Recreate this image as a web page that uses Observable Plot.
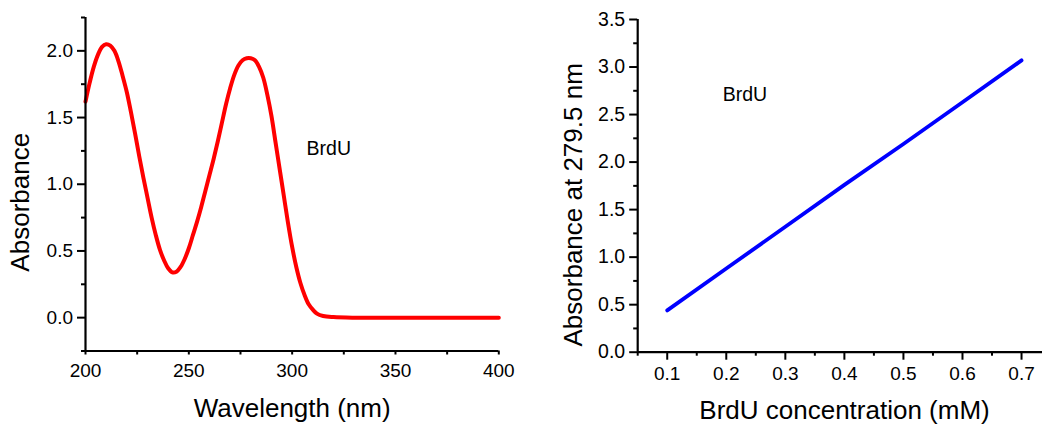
<!DOCTYPE html>
<html><head><meta charset="utf-8">
<script src="https://cdn.jsdelivr.net/npm/d3@7"></script>
<script src="https://cdn.jsdelivr.net/npm/@observablehq/plot@0.6"></script>
<style>
html,body{margin:0;padding:0;background:#fff;}
#wrap{display:flex;width:1042px;height:424px;overflow:hidden;}
svg{display:block;flex:none;}
</style></head><body><div id="wrap"></div>
<script>
// Left panel: UV spectrum of BrdU
const wavelength = [200,202,204,206,208,210,212,214,216,218,220,222,224,226,228,230,232,234,236,238,240,242,244,246,248,250,252,254,256,258,260,262,264,266,268,270,272,274,276,278,280,282,284,286,288,290,292,294,296,298,300,302,304,306,308,310,312,315,320,330,350,400];
const absorbance = [1.62,1.76,1.88,1.97,2.03,2.05,2.04,2.00,1.92,1.81,1.69,1.54,1.38,1.21,1.05,0.90,0.75,0.62,0.51,0.43,0.37,0.34,0.345,0.38,0.44,0.52,0.62,0.72,0.83,0.95,1.07,1.19,1.32,1.46,1.60,1.72,1.82,1.89,1.93,1.945,1.945,1.93,1.88,1.80,1.67,1.51,1.31,1.11,0.91,0.71,0.53,0.38,0.26,0.17,0.10,0.06,0.03,0.012,0.004,0.0,0.0,0.0];
const spectrumXTicks = [200,250,300,350,400];
const spectrumXMinor = [225,275,325,375];
const spectrumYTicks = [0,0.5,1.0,1.5,2.0];
const spectrumYMinor = [-0.25,0.25,0.75,1.25,1.75,2.25];
const spectrumLabel = [{x:307, y:1.265, text:"BrdU"}];

// Right panel: calibration line
const concentration = [0.1,0.2,0.3,0.4,0.5,0.6,0.7];
const absorbance279 = [0.44,0.88,1.32,1.76,2.19,2.63,3.07];
const calibXTicks = [0.1,0.2,0.3,0.4,0.5,0.6,0.7];
const calibXMinor = [0.05,0.15,0.25,0.35,0.45,0.55,0.65];
const calibYTicks = [0,0.5,1.0,1.5,2.0,2.5,3.0,3.5];
const calibYMinor = [0.25,0.75,1.25,1.75,2.25,2.75,3.25];
const calibLabel = [{x:0.194, y:2.713, text:"BrdU"}];

const font = "'Liberation Sans', Arial, Helvetica, sans-serif";
const f1 = d3.format(".1f");

const spectrum = wavelength.map((w,i)=>({w, a: absorbance[i]}));
const calib = concentration.map((c,i)=>({c, a: absorbance279[i]}));

const left = Plot.plot({
  width: 520, height: 424,
  marginLeft: 85, marginRight: 21.7, marginTop: 17, marginBottom: 73.5,
  style: {fontFamily: font, background: "white", color: "black", overflow: "visible"},
  x: {domain: [200, 400]},
  y: {domain: [-0.25, 2.25]},
  marks: [
    Plot.line(spectrum, {x: "w", y: "a", stroke: "#ff0000", strokeWidth: 4, curve: "catmull-rom"}),
    Plot.axisX(spectrumXTicks, {tickSize: 4, tickPadding: 8.6, fontSize: 19, strokeWidth: 2, tickFormat: d => String(d), label: null}),
    Plot.axisX(spectrumXMinor, {tickSize: 4, strokeWidth: 2, tickFormat: () => "", label: null}),
    Plot.axisY(spectrumYTicks, {tickSize: 8, tickPadding: 4.5, fontSize: 19, strokeWidth: 2, tickFormat: f1, label: null}),
    Plot.axisY(spectrumYMinor, {tickSize: 4, strokeWidth: 2, tickFormat: () => "", label: null}),
    Plot.ruleX([200], {strokeWidth: 2.2}),
    Plot.ruleY([-0.25], {strokeWidth: 2.2}),
    Plot.text(spectrumLabel, {x: "x", y: "y", text: "text", textAnchor: "start", fontSize: 19.5}),
    Plot.text(["Wavelength (nm)"], {text: d => d, frameAnchor: "bottom", textAnchor: "middle", lineAnchor: "bottom", dy: 66, fontSize: 26}),
    Plot.text(["Absorbance"], {text: d => d, frameAnchor: "left", textAnchor: "middle", rotate: -90, dx: -65, dy: 18, fontSize: 26})
  ]
});

const right = Plot.plot({
  width: 522, height: 424,
  marginLeft: 117.2, marginRight: 0, marginTop: 19, marginBottom: 72.3,
  style: {fontFamily: font, background: "white", color: "black", overflow: "visible"},
  x: {domain: [0.05, 0.7355]},
  y: {domain: [0, 3.5]},
  marks: [
    Plot.line(calib, {x: "c", y: "a", stroke: "#0000ff", strokeWidth: 3.8}),
    Plot.axisX(calibXTicks, {tickSize: 8, tickPadding: 6.3, fontSize: 19, strokeWidth: 2, tickFormat: f1, label: null}),
    Plot.axisX(calibXMinor, {tickSize: 4, strokeWidth: 2, tickFormat: () => "", label: null}),
    Plot.axisY(calibYTicks, {tickSize: 8, tickPadding: 4.5, fontSize: 19.5, strokeWidth: 2, tickFormat: f1, label: null}),
    Plot.axisY(calibYMinor, {tickSize: 4, strokeWidth: 2, tickFormat: () => "", label: null}),
    Plot.ruleX([0.05], {strokeWidth: 2.2}),
    Plot.ruleY([0], {strokeWidth: 2.2}),
    Plot.text(calibLabel, {x: "x", y: "y", text: "text", textAnchor: "start", fontSize: 19.5}),
    Plot.text(["BrdU concentration (mM)"], {text: d => d, frameAnchor: "bottom", textAnchor: "middle", lineAnchor: "bottom", dx: 4.4, dy: 66.6, fontSize: 26}),
    Plot.text(["Absorbance at 279.5 nm"], {text: d => d, frameAnchor: "left", textAnchor: "middle", rotate: -90, dx: -64.2, dy: 19, fontSize: 26})
  ]
});

document.getElementById("wrap").append(left, right);
</script>
</body></html>
